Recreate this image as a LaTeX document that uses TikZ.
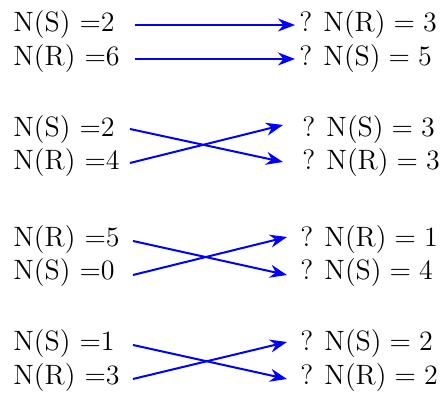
\documentclass[tikz,border=0pt]{standalone}
\usetikzlibrary{arrows.meta}
\newcommand{\myrfont}{\fontsize{14}{17}\selectfont\spaceskip=0.29em plus 0.05em\relax}
\begin{document}
\begin{tikzpicture}[x=0.5pt,y=-0.5pt,
  lbl/.style={anchor=base west,inner sep=0pt,font=\fontsize{14}{17}\selectfont},
  rlbl/.style={anchor=base west,inner sep=0pt,font=\myrfont},
  arr/.style={blue,line width=1pt,-{Stealth[length=8.5pt,width=6.5pt]}}]
\useasboundingbox (0,0) rectangle (441,399);
% block 1
\node[lbl] (l11) at (13,32) {N(S) =2};
\node[lbl] (l12) at (13,66) {N(R) =6};
\node[rlbl] (r11) at (299,32) {? N(R) = 3};
\node[rlbl] (r12) at (299,66) {? N(S) = 5};
\coordinate (s11) at (135,25); \coordinate (t11) at (295,25);
\coordinate (s12) at (135,59); \coordinate (t12) at (295,59);
\draw[arr] (s11) -- (t11);
\draw[arr] (s12) -- (t12);
% block 2
\node[lbl] (l21) at (13,137) {N(S) =2};
\node[lbl] (l22) at (13,170) {N(R) =4};
\node[rlbl] (r21) at (302,137) {? N(S) = 3};
\node[rlbl] (r22) at (302,170) {? N(R) = 3};
\coordinate (s21) at (130,129); \coordinate (t21) at (283,125);
\coordinate (s22) at (130,163); \coordinate (t22) at (283,162);
\draw[arr] (s21) -- (t22);
\draw[arr] (s22) -- (t21);
% block 3
\node[lbl] (l31) at (13,247) {N(R) =5};
\node[lbl] (l32) at (13,280) {N(S) =0};
\node[rlbl] (r31) at (300,247) {? N(R) = 1};
\node[rlbl] (r32) at (300,280) {? N(S) = 4};
\coordinate (s31) at (133,241); \coordinate (t31) at (287,237);
\coordinate (s32) at (133,275); \coordinate (t32) at (287,275);
\draw[arr] (s31) -- (t32);
\draw[arr] (s32) -- (t31);
% block 4
\node[lbl] (l41) at (13,351) {N(S) =1};
\node[lbl] (l42) at (13,385) {N(R) =3};
\node[rlbl] (r41) at (300,351) {? N(S) = 2};
\node[rlbl] (r42) at (300,385) {? N(R) = 2};
\coordinate (s41) at (133,345); \coordinate (t41) at (287,342);
\coordinate (s42) at (133,379); \coordinate (t42) at (287,379);
\draw[arr] (s41) -- (t42);
\draw[arr] (s42) -- (t41);
\end{tikzpicture}
\end{document}
